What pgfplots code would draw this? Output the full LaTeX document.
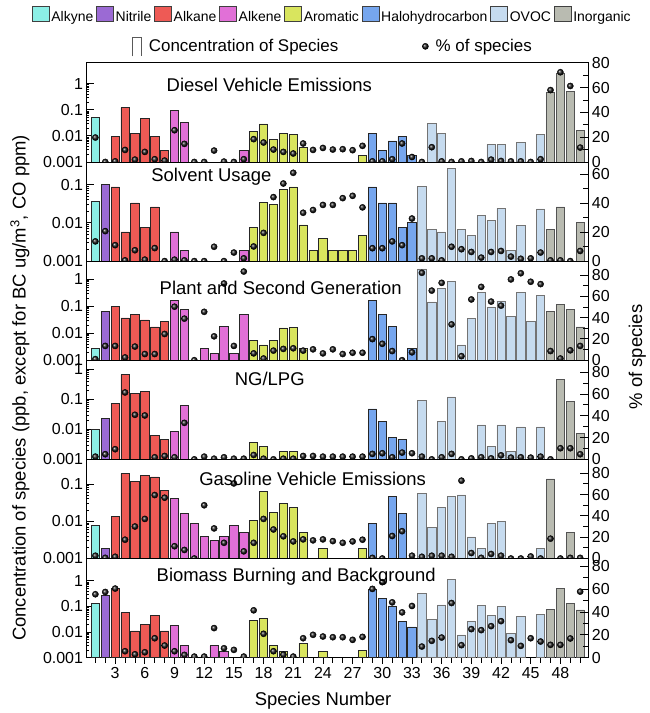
\documentclass[border=0pt]{standalone}
\usepackage{fontspec}
\setmainfont{Liberation Sans}
\usepackage{pgfplots}
\usepackage{pgfplotstable}
\pgfplotsset{compat=1.18}

\definecolor{calkyne}{HTML}{8CEFE6}
\definecolor{cnitrile}{HTML}{9B6AD4}
\definecolor{calkane}{HTML}{EE5A55}
\definecolor{calkene}{HTML}{E170D7}
\definecolor{carom}{HTML}{D9E55E}
\definecolor{chalo}{HTML}{76A6EE}
\definecolor{covoc}{HTML}{C6DBEF}
\definecolor{cinorg}{HTML}{B9BBB1}

% s = species number, c = concentration (nan = no bar), p = % of species
\pgfplotstableread{
s c p
1 0.051 19.7
2 nan 0
3 0.0094 0.5
4 0.12 9.7
5 0.0123 1.9
6 0.045 8.1
7 0.0094 2.2
8 0.0028 1.1
9 0.093 25.6
10 0.032 14.6
11 nan 0
12 nan 0
13 nan 9.2
14 nan 0.3
15 nan 0
16 0.0028 2.2
17 0.0144 18.4
18 0.0285 15.7
19 0.0074 10.0
20 0.0127 8.1
21 0.0117 6.8
22 0.0037 14.9
23 nan 9.7
24 nan 11.3
25 nan 10.0
26 nan 10.3
27 nan 9.5
28 0.0018 13.0
29 0.0123 0.5
30 0.0028 0.5
31 0.0064 2.2
32 0.0094 14.9
33 0.0018 4.0
34 nan 0
35 0.031 11.9
36 0.0123 0.5
37 nan 0
38 nan 0.5
39 nan 0.8
40 nan 0
41 0.0047 1.9
42 0.0047 0.8
43 nan 0.5
44 0.0057 0.5
45 nan 0
46 0.0113 2.2
47 0.45 58
48 2.5 72.4
49 0.52 61.3
50 0.0163 11.6
}\pdiesel

\pgfplotstableread{
s c p
1 0.036 13.6
2 0.10 20.7
3 0.087 11.0
4 0.0058 0.5
5 0.033 7.5
6 0.0076 1.0
7 0.026 9.0
8 nan 0
9 0.0058 1.0
10 0.0019 0.5
11 nan 0
12 nan 0
13 nan 9.9
14 nan 0
15 nan 5.9
16 0.0019 1.9
17 0.0076 10.1
18 0.034 19.5
19 0.030 44.2
20 0.074 53.6
21 0.087 61.0
22 0.0088 33.4
23 0.0019 35.3
24 0.0039 38.8
25 0.0019 38.8
26 0.0019 43.5
27 0.0019 45.1
28 0.0048 37.1
29 0.087 8.9
30 0.033 8.9
31 0.033 13.6
32 0.0076 11.0
33 0.0103 29.4
34 0.09 1.9
35 0.0067 1.9
36 0.0058 0.5
37 0.26 9.9
38 0.0067 8.2
39 0.0048 6.3
40 0.0154 2.4
41 0.0114 6.3
42 0.024 7.0
43 0.0019 3.1
44 0.0086 1.6
45 nan 1.9
46 0.023 5.9
47 0.0067 0.5
48 0.026 0.5
49 nan 0
50 0.0105 7.0
}\psolvent

\pgfplotstableread{
s c p
1 0.0028 1.0
2 0.063 13.4
3 0.097 13.4
4 0.037 2.6
5 0.050 12.8
6 0.031 5.8
7 0.017 5.8
8 0.027 24.6
9 0.17 50.2
10 0.075 39.0
11 nan 0
12 0.0027 45.4
13 0.0018 22.4
14 0.018 72
15 0.0018 13.4
16 0.050 83.2
17 0.0055 6.4
18 0.0037 1.6
19 0.0055 9.0
20 0.0158 10.6
21 0.0167 11.2
22 0.0027 9.0
23 nan 10.2
24 nan 6.4
25 nan 10.2
26 nan 5.8
27 nan 7.0
28 nan 7.0
29 0.17 19.8
30 0.048 15.4
31 0.018 8.6
32 nan 0
33 0.0027 7.4
34 2.4 82
35 0.145 65.3
36 0.47 72.6
37 0.81 33.6
38 0.0037 3.8
39 0.035 57
40 0.32 68.8
41 0.094 55
42 0.158 51.2
43 0.043 75.8
44 0.32 81.6
45 0.027 73.6
46 0.26 71.4
47 0.063 8.6
48 0.12 1.6
49 0.077 9.3
50 0.017 13.4
}\pplant

\pgfplotstableread{
s c p
1 0.010 2.5
2 0.024 4.7
3 0.071 9.3
4 0.66 61.4
5 0.155 40.9
6 0.186 40.3
7 0.0063 1.9
8 0.0045 3.1
9 0.0086 1.9
10 0.063 33.5
11 nan 0
12 nan 2.5
13 nan 0.6
14 nan 1.9
15 nan 0.6
16 nan 0.6
17 0.0037 4.0
18 0.0027 0.6
19 nan 0
20 0.0018 0.6
21 0.0018 0.6
22 nan 3.1
23 nan 3.1
24 nan 2.5
25 nan 2.5
26 nan 2.5
27 nan 2.5
28 nan 2.5
29 0.048 5.0
30 0.0187 5.6
31 0.0055 1.9
32 0.0047 6.2
33 nan 5.6
34 0.091 2.5
35 nan 0
36 0.018 1.9
37 0.12 5.0
38 nan 0
39 nan 0.9
40 0.014 1.9
41 0.0027 0.9
42 0.014 3.7
43 0.0018 1.6
44 0.012 1.9
45 nan 1.6
46 0.012 2.5
47 nan 0
48 0.47 10.2
49 0.083 10.2
50 0.0075 4.7
}\pngl

\pgfplotstableread{
s c p
1 0.0076 2.6
2 0.0019 0.6
3 0.0134 1.6
4 0.19 17.6
5 0.118 30
6 0.17 37.1
7 0.155 59.5
8 0.066 57
9 0.042 11.5
10 0.0165 8.0
11 0.0087 0
12 0.0039 49.9
13 0.0030 28.2
14 0.0039 14.7
15 0.0079 70.4
16 0.0049 6.7
17 0.0106 14.7
18 0.063 37.1
19 0.0175 27.2
20 0.0296 20.8
21 0.0234 16.0
22 0.0049 17.9
23 nan 17.0
24 0.0019 17.9
25 nan 16.3
26 nan 14.7
27 nan 16.0
28 0.0019 17.6
29 0.0087 0.6
30 nan 0
31 0.046 21.1
32 0.0162 25.6
33 nan 2.6
34 0.056 1.6
35 0.0068 2.6
36 0.0234 2.6
37 0.046 1.6
38 0.051 73
39 0.0038 5.1
40 0.0019 0.6
41 0.0087 4.2
42 0.0098 2.6
43 nan 0
44 nan 0
45 nan 1.9
46 0.0019 0
47 0.137 18.6
48 nan 0
49 0.0049 0.6
50 nan 0.6
}\pgasoline

\pgfplotstableread{
s c p
1 0.133 55.6
2 0.26 57.6
3 0.51 60.6
4 0.057 5.6
5 0.011 2.9
6 0.020 4.7
7 0.046 17
8 0.011 10.6
9 0.018 5.6
10 0.0029 2.4
11 nan 0.9
12 nan 0.9
13 0.0029 25.9
14 0.0018 8.2
15 nan 6.8
16 nan 0.9
17 0.029 41.5
18 0.035 20.9
19 0.0029 5.6
20 0.0018 2.6
21 nan 0.9
22 0.0036 17
23 nan 20.0
24 0.0018 18.5
25 nan 17.9
26 nan 17.9
27 nan 15.6
28 0.0019 18.2
29 0.45 60.3
30 0.21 66.2
31 0.105 48.5
32 0.026 39.7
33 0.0158 45.3
34 0.32 9.7
35 0.032 14.7
36 0.115 17.6
37 1.1 47.9
38 0.0077 10.9
39 0.025 25
40 0.112 24.1
41 0.045 27.6
42 0.099 32
43 0.0087 15.3
44 0.042 10.3
45 nan 17
46 0.05 14.1
47 0.077 11.2
48 0.5 11.2
49 0.13 16.8
50 0.073 57.9
}\pbiomass

\newcommand\tfont{\fontsize{16}{18}\selectfont}
\newcommand\bfont{\fontsize{18.5}{21}\selectfont}

\newcommand\bars[1]{%
  \addplot[ybar, bar width=0.84, draw=black!85, line width=0.7pt, forget plot, fill=calkyne, restrict x to domain=0.5:1.5] table[x=s,y=c]{#1};
  \addplot[ybar, bar width=0.84, draw=black!85, line width=0.7pt, forget plot, fill=cnitrile, restrict x to domain=1.5:2.5] table[x=s,y=c]{#1};
  \addplot[ybar, bar width=0.84, draw=black!85, line width=0.7pt, forget plot, fill=calkane, restrict x to domain=2.5:8.5] table[x=s,y=c]{#1};
  \addplot[ybar, bar width=0.84, draw=black!85, line width=0.7pt, forget plot, fill=calkene, restrict x to domain=8.5:16.5] table[x=s,y=c]{#1};
  \addplot[ybar, bar width=0.84, draw=black!85, line width=0.7pt, forget plot, fill=carom, restrict x to domain=16.5:28.5] table[x=s,y=c]{#1};
  \addplot[ybar, bar width=0.84, draw=black!85, line width=0.7pt, forget plot, fill=chalo, restrict x to domain=28.5:33.5] table[x=s,y=c]{#1};
  \addplot[ybar, bar width=0.84, draw=gray!90!black, line width=0.7pt, forget plot, fill=covoc, restrict x to domain=33.5:46.5] table[x=s,y=c]{#1};
  \addplot[ybar, bar width=0.84, draw=gray!65!black, line width=0.7pt, forget plot, fill=cinorg, restrict x to domain=46.5:50.5] table[x=s,y=c]{#1};
}
\newcommand\balls[1]{%
  \addplot[only marks, mark=ball, mark size=3.1pt, mark options={ball color=black!90}, forget plot] table[x=s,y=p]{#1};
}

% left (log) axis of one panel: #1 = vertical offset, #2 = ymax, #3 = ticks, #4 = labels
\newcommand\leftaxis[4]{%
\begin{axis}[scale only axis, width=503.3pt, height=99.4pt, anchor=south west, at={(0,#1)},
  xmin=0.1, xmax=50.83, ymode=log, log origin=infty, ymin=0.001, ymax=#2,
  xtick=\empty, ytick={#3}, yticklabels={#4}, ytick pos=left,
  tick align=inside, major tick length=8pt,
  axis line style={line width=0.9pt}, tick style={black, line width=0.8pt},
  tick label style={font=\tfont}]
}
% right (% of species) axis: #1 = vertical offset, #2 = ymax
\newcommand\rightaxis[2]{%
\begin{axis}[scale only axis, width=503.3pt, height=99.4pt, anchor=south west, at={(0,#1)},
  xmin=0.1, xmax=50.83, ymin=0, ymax=#2, axis x line=none, axis y line*=right,
  ytick={0,20,40,60,80}, minor ytick={10,30,50,70}, tick align=inside,
  major tick length=8pt, minor tick length=5pt, clip marker paths=true,
  axis line style={line width=0.9pt}, tick style={black, line width=0.8pt},
  tick label style={font=\tfont}, /pgf/number format/assume math mode=true]
}

\begin{document}
\begin{tikzpicture}
% panel 1
\leftaxis{0pt}{6.3}{0.001,0.01,0.1,1}{0.001,0.01,0.1,1}
\bars{\pdiesel}
\end{axis}
\rightaxis{0pt}{80}
\balls{\pdiesel}
\end{axis}
% panel 2
\leftaxis{-99.4pt}{0.39}{0.001,0.01,0.1}{0.001,0.01,0.1}
\bars{\psolvent}
\end{axis}
\rightaxis{-99.4pt}{68.5}
\balls{\psolvent}
\end{axis}
% panel 3
\leftaxis{-198.8pt}{4.7}{0.001,0.01,0.1,1}{0.001,0.01,0.1,1}
\bars{\pplant}
\end{axis}
\rightaxis{-198.8pt}{93}
\balls{\pplant}
\end{axis}
% panel 4
\leftaxis{-298.2pt}{2.0}{0.001,0.01,0.1,1}{0.001,0.01,0.1,1}
\bars{\pngl}
\end{axis}
\rightaxis{-298.2pt}{91}
\balls{\pngl}
\end{axis}
% panel 5
\leftaxis{-397.6pt}{0.46}{0.001,0.01,0.1}{0.001,0.01,0.1}
\bars{\pgasoline}
\end{axis}
\rightaxis{-397.6pt}{93}
\balls{\pgasoline}
\end{axis}
% panel 6
\leftaxis{-497pt}{7.5}{0.001,0.01,0.1,1}{0.001,0.01,0.1,1}
\bars{\pbiomass}
\end{axis}
\rightaxis{-497pt}{87}
\balls{\pbiomass}
\end{axis}
% species axis at the bottom
\begin{axis}[scale only axis, width=503.3pt, height=99.4pt, anchor=south west, at={(0,-497pt)},
  xmin=0.1, xmax=50.83, ymin=0, ymax=1, axis y line=none, axis x line*=bottom,
  xtick={3,6,...,48}, minor xtick={1,...,50}, tick align=outside,
  major tick length=6pt, minor tick length=5pt, axis line style={draw=none},
  tick style={black, line width=0.8pt}, tick label style={font=\tfont},
  /pgf/number format/assume math mode=true]
\addplot[draw=none, forget plot] coordinates {(1,0)};
\end{axis}
% legends
\begin{axis}[scale only axis, width=503.3pt, height=99.4pt, anchor=south west, at={(0,0)},
  xmin=0, xmax=1, ymin=0, ymax=1, hide axis,
  legend columns=8,
  legend style={at={(0.49,1)}, anchor=south, yshift=36pt, draw=none, fill=none,
    font=\fontsize{14}{16}\selectfont,
    /tikz/every even column/.append style={column sep=1pt}}]
\addlegendimage{legend image code/.code={\draw[fill=calkyne, draw=black!75] (0pt,-4.5pt) rectangle (17pt,10.5pt);}}
\addlegendentry{Alkyne}
\addlegendimage{legend image code/.code={\draw[fill=cnitrile, draw=black!75] (0pt,-4.5pt) rectangle (17pt,10.5pt);}}
\addlegendentry{Nitrile}
\addlegendimage{legend image code/.code={\draw[fill=calkane, draw=black!75] (0pt,-4.5pt) rectangle (17pt,10.5pt);}}
\addlegendentry{Alkane}
\addlegendimage{legend image code/.code={\draw[fill=calkene, draw=black!75] (0pt,-4.5pt) rectangle (17pt,10.5pt);}}
\addlegendentry{Alkene}
\addlegendimage{legend image code/.code={\draw[fill=carom, draw=black!75] (0pt,-4.5pt) rectangle (17pt,10.5pt);}}
\addlegendentry{Aromatic}
\addlegendimage{legend image code/.code={\draw[fill=chalo, draw=black!75] (0pt,-4.5pt) rectangle (17pt,10.5pt);}}
\addlegendentry{Halohydrocarbon}
\addlegendimage{legend image code/.code={\draw[fill=covoc, draw=black!75] (0pt,-4.5pt) rectangle (17pt,10.5pt);}}
\addlegendentry{OVOC}
\addlegendimage{legend image code/.code={\draw[fill=cinorg, draw=black!75] (0pt,-4.5pt) rectangle (17pt,10.5pt);}}
\addlegendentry{Inorganic}
\end{axis}
\begin{axis}[scale only axis, width=503.3pt, height=99.4pt, anchor=south west, at={(0,0)},
  xmin=0, xmax=1, ymin=0, ymax=1, hide axis,
  legend columns=2,
  legend style={at={(0.491,1)}, anchor=center, yshift=16pt, draw=none, fill=none,
    font=\fontsize{17}{19}\selectfont,
    /tikz/every odd column/.append style={column sep=5pt},
    /tikz/every even column/.append style={column sep=82pt}}]
\addlegendimage{legend image code/.code={\draw[gray!70!black, line width=0.9pt] (0pt,-10pt) -- (0pt,9pt) -- (9pt,9pt) -- (9pt,-10pt);}}
\addlegendentry{Concentration of Species}
\addlegendimage{only marks, mark=ball, mark size=3.1pt, mark options={ball color=black!90}}
\addlegendentry{\% of species}
\end{axis}

\node[font=\bfont] at (183.3pt,77.4pt) {Diesel Vehicle Emissions};
\node[font=\bfont] at (125.3pt,-14.6pt) {Solvent Usage};
\node[font=\bfont] at (194.8pt,-126.6pt) {Plant and Second Generation};
\node[font=\bfont] at (183.8pt,-217.6pt) {NG/LPG};
\node[font=\bfont] at (226.8pt,-318.3pt) {Gasoline Vehicle Emissions};
\node[font=\bfont] at (210.3pt,-415.6pt) {Biomass Burning and Background};
\node[font=\bfont, rotate=90] at (-66.7pt,-226.6pt) {Concentration of species (ppb, except for BC ug/m\textsuperscript{3}, CO ppm)};
\node[font=\bfont, rotate=90] at (552.3pt,-195.6pt) {\% of species};
\node[font=\bfont] at (237.3pt,-540.6pt) {Species Number};
\path (-86.7pt,162.4pt) rectangle (564.3pt,-550.6pt);
\end{tikzpicture}
\end{document}
